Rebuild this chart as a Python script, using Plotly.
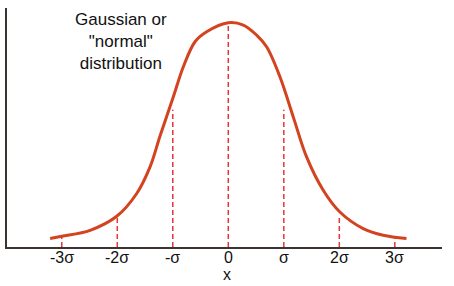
import plotly.graph_objects as go

# Curve (x in sigma units, y as density)
curve_x = [-3.21, -3.00, -2.49, -2.01, -1.65, -1.41, -1.23, -0.99, -0.81, -0.60, -0.39,
           0.00, 0.27, 0.51, 0.69, 0.93, 1.18, 1.41, 1.71, 2.01, 2.43, 2.79, 3.21]
curve_y = [0.0150, 0.0191, 0.0298, 0.0548, 0.0954, 0.1429, 0.1980, 0.2679, 0.3214, 0.3661, 0.3839,
           0.4000, 0.3959, 0.3780, 0.3571, 0.3036, 0.2290, 0.1607, 0.1013, 0.0625, 0.0329, 0.0209, 0.0150]

# Positions of the marked sigmas and tick labels
sigma_pos = [-3, -2, -1, 0, 1, 2, 3]
sigma_labels = ["-3σ", "-2σ", "-σ", "0", "σ", "2σ", "3σ"]
# Heights of the dashed guides (up to the curve)
guide_heights = [0.0191, 0.0548, 0.2450, 0.4000, 0.2450, 0.0548, 0.0191]

title_text = "Gaussian or<br>\"normal\"<br>distribution"
axis_label = "x"

curve_color = "#d3431f"
guide_color = "#e0363c"
axis_color = "#3b3431"

fig = go.Figure()

for xp, h in zip(sigma_pos, guide_heights):
    fig.add_trace(go.Scatter(
        x=[xp, xp], y=[0, h], mode="lines",
        line=dict(color=guide_color, width=1.5, dash="5px,3px"),
        hoverinfo="skip", showlegend=False))

fig.add_trace(go.Scatter(
    x=curve_x, y=curve_y, mode="lines",
    line=dict(color=curve_color, width=3, shape="spline", smoothing=1.0),
    showlegend=False))

annotations = [
    dict(text=title_text, x=-1.942, y=0.858, xref="x", yref="paper",
         xanchor="center", yanchor="middle", showarrow=False,
         font=dict(size=17, color="#111111")),
    dict(text=axis_label, x=-0.03, y=-0.115, xref="x", yref="paper",
         xanchor="center", yanchor="middle", showarrow=False,
         font=dict(size=16, color="#111111")),
]
for xp, lab in zip(sigma_pos, sigma_labels):
    annotations.append(dict(text=lab, x=xp, y=-0.046, xref="x", yref="paper",
                            xanchor="center", yanchor="middle", showarrow=False,
                            font=dict(size=16, color="#111111")))

fig.update_layout(
    width=454, height=286,
    margin=dict(l=7, r=12, t=8, b=39),
    paper_bgcolor="white", plot_bgcolor="white",
    font=dict(family="Liberation Sans, Arial, sans-serif", color="#111111"),
    xaxis=dict(range=[-3.987, 3.850], showgrid=False, zeroline=False,
               showline=True, linecolor=axis_color, linewidth=2,
               tickvals=sigma_pos, showticklabels=False, ticks=""),
    yaxis=dict(range=[0, 0.4263], showgrid=False, zeroline=False,
               showline=True, linecolor=axis_color, linewidth=1.5,
               showticklabels=False, ticks=""),
    annotations=annotations,
)

fig.write_html("out.html")
